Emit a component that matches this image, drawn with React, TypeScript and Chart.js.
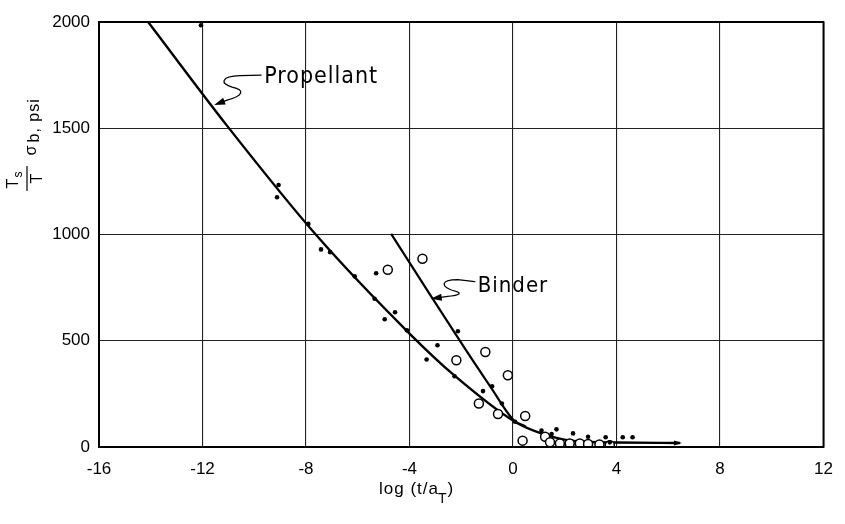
import React, { useEffect, useRef } from 'react';
import { Chart, registerables } from 'chart.js';

Chart.register(...registerables);

// ---- data ----
const xMin = -16;
const xMax = 12;
const xStep = 4;
const yMin = 0;
const yMax = 2000;
const yStep = 500;

// Propellant measurements (filled dots)
const propellantX = [-12.06, -9.06, -9.12, -7.91, -7.42, -7.07, -6.12, -5.29, -5.35, -4.96, -4.56, -4.1, -2.13, -2.92, -3.34, -2.26, -1.16, -0.81, -0.43, 0.08, 1.1, 1.49, 1.68, 2.32, 2.9, 3.58, 4.24, 4.62, 3.74];
const propellantY = [1985, 1233, 1175, 1050, 930, 917, 803, 818, 698, 601, 634, 549, 545, 479, 412, 333, 263, 286, 205, 119, 77, 61, 83, 64, 48, 46, 46, 46, 22];

// Binder measurements (open circles)
const binderX = [-4.84, -3.5, -1.07, -2.19, -0.2, -1.32, -0.58, 0.47, 0.37, 1.24, 1.43, 1.81, 2.19, 2.58, 2.9, 3.34, 3.74];
const binderY = [834, 886, 447, 408, 338, 205, 155, 146, 30, 48, 22, 17, 17, 17, 14, 12, 8];

// Faired curves
const propellantCurveX = [-14.1, -11.04, -7.59, -4.0, -2.28, 0.07, 1.17, 2.45, 4.0, 6.45];
const propellantCurveY = [2000, 1510, 995, 534, 338, 119, 61, 27, 21, 19];
const binderCurveX = [-4.71, -3.56, -1.9, -0.87, 0.02, 0.5];
const binderCurveY = [1003, 784, 471, 283, 127, 96];

// Callouts
const calloutLabels = ['Propellant', 'Binder'];
const calloutTipX = [-11.55, -3.18];
const calloutTipY = [1609, 698];

const xTitle = 'log (t/a';
const xTitleSub = 'T';

const FONT = '"Liberation Sans", Arial, sans-serif';
const NARROW = '"Liberation Sans Narrow", "DejaVu Sans Condensed", sans-serif';

const pts = (xs: number[], ys: number[]) => xs.map((x, i) => ({ x, y: ys[i] }));

function arrowHead(ctx: CanvasRenderingContext2D, fx: number, fy: number, tx: number, ty: number, len: number, half: number) {
  const dx = tx - fx;
  const dy = ty - fy;
  const d = Math.hypot(dx, dy) || 1;
  const ux = dx / d;
  const uy = dy / d;
  const bx = tx - ux * len;
  const by = ty - uy * len;
  ctx.beginPath();
  ctx.moveTo(tx, ty);
  ctx.lineTo(bx - uy * half, by + ux * half);
  ctx.lineTo(bx + uy * half, by - ux * half);
  ctx.closePath();
  ctx.fill();
}

const decorPlugin = {
  id: 'decor',
  afterDatasetsDraw(chart: any) {
    const ctx: CanvasRenderingContext2D = chart.ctx;
    const xs = chart.scales.x;
    const ys = chart.scales.y;
    const area = chart.chartArea;
    ctx.save();
    ctx.strokeStyle = '#000';
    ctx.fillStyle = '#000';
    ctx.lineCap = 'round';
    ctx.lineJoin = 'round';

    // frame
    ctx.lineWidth = 2;
    ctx.strokeRect(area.left, area.top, area.right - area.left, area.bottom - area.top);

    // callouts
    for (let i = 0; i < calloutLabels.length; i++) {
      const tx = xs.getPixelForValue(calloutTipX[i]);
      const ty = ys.getPixelForValue(calloutTipY[i]);
      ctx.lineWidth = 1.3;
      ctx.beginPath();
      if (i === 0) {
        ctx.moveTo(tx + 47, ty - 30);
        ctx.lineTo(tx + 26, ty - 29.5);
        ctx.bezierCurveTo(tx + 6, ty - 29, tx + 6, ty - 21, tx + 18, ty - 18);
        ctx.bezierCurveTo(tx + 32, ty - 15, tx + 28, ty - 9, tx + 13, ty - 5);
        ctx.lineTo(tx + 6, ty - 2.3);
        ctx.stroke();
        arrowHead(ctx, tx + 13, ty - 5, tx, ty, 11, 3.5);
        ctx.font = `23px ${NARROW}`;
        (ctx as any).letterSpacing = '1px';
        ctx.textBaseline = 'alphabetic';
        ctx.textAlign = 'left';
        ctx.fillText(calloutLabels[i], tx + 50, ty - 22);
      } else {
        ctx.moveTo(tx + 44, ty - 17);
        ctx.lineTo(tx + 27, ty - 19);
        ctx.bezierCurveTo(tx + 10, ty - 19, tx + 8, ty - 12, tx + 26, ty - 7);
        ctx.bezierCurveTo(tx + 32, ty - 5, tx + 26, ty - 3, tx + 17, ty - 2.3);
        ctx.lineTo(tx + 8, ty - 1);
        ctx.stroke();
        arrowHead(ctx, tx + 17, ty - 2.3, tx, ty, 11, 3.5);
        ctx.font = `22px ${NARROW}`;
        (ctx as any).letterSpacing = '1px';
        ctx.textBaseline = 'alphabetic';
        ctx.textAlign = 'left';
        ctx.fillText(calloutLabels[i], tx + 47, ty - 7);
      }
      (ctx as any).letterSpacing = '0px';
    }

    // small arrow at end of propellant curve
    const n = propellantCurveX.length;
    const ex = xs.getPixelForValue(propellantCurveX[n - 1]);
    const ey = ys.getPixelForValue(propellantCurveY[n - 1]);
    arrowHead(ctx, ex - 10, ey, ex + 2, ey, 8, 2.5);

    // x title
    const xl = area.left + 280;
    const xb = area.bottom + 47;
    ctx.font = `17px ${FONT}`;
    (ctx as any).letterSpacing = '1px';
    ctx.textAlign = 'left';
    ctx.textBaseline = 'alphabetic';
    ctx.fillText(xTitle, xl, xb);
    const w1 = ctx.measureText(xTitle).width;
    ctx.font = `14px ${FONT}`;
    ctx.fillText(xTitleSub, xl + w1 - 1, xb + 9);
    const w2 = ctx.measureText(xTitleSub).width;
    ctx.font = `17px ${FONT}`;
    ctx.fillText(')', xl + w1 + w2 - 1, xb);
    (ctx as any).letterSpacing = '0px';

    // y title (rotated)
    const oy = (area.top + area.bottom) / 2 - 44;
    ctx.translate(area.left - 99, oy);
    ctx.rotate(-Math.PI / 2);
    ctx.font = `16px ${FONT}`;
    ctx.fillText('T', 2, 18);
    ctx.font = `12px ${FONT}`;
    ctx.fillText('s', 13, 22);
    ctx.lineWidth = 1.2;
    ctx.beginPath();
    ctx.moveTo(0, 27);
    ctx.lineTo(24, 27);
    ctx.stroke();
    ctx.font = `16px ${FONT}`;
    ctx.fillText('T', 7, 42);
    ctx.fillText('\u03c3', 35, 36);
    (ctx as any).letterSpacing = '1px';
    ctx.fillText('b, psi', 48, 39);
    (ctx as any).letterSpacing = '0px';
    ctx.restore();
  },
};

export default function App() {
  const ref = useRef<HTMLCanvasElement | null>(null);
  useEffect(() => {
    document.body.style.margin = '0';
    const canvas = ref.current;
    if (!canvas) return;
    const tickFont = { family: FONT, size: 17 };
    const plain = (v: any) => String(v);
    const chart = new Chart(canvas, {
      type: 'scatter',
      data: {
        datasets: [
          {
            label: 'Propellant',
            data: pts(propellantX, propellantY),
            pointRadius: 2.3,
            pointBackgroundColor: '#000',
            pointBorderWidth: 0,
            showLine: false,
            order: 0,
          },
          {
            label: 'Binder',
            data: pts(binderX, binderY),
            pointRadius: 4.5,
            pointBackgroundColor: '#fff',
            pointBorderColor: '#000',
            pointBorderWidth: 1.5,
            showLine: false,
            order: 0,
          },
          {
            label: 'Propellant curve',
            data: pts(propellantCurveX, propellantCurveY),
            showLine: true,
            pointRadius: 0,
            borderColor: '#000',
            borderWidth: 2.4,
            cubicInterpolationMode: 'monotone',
            order: 1,
          },
          {
            label: 'Binder curve',
            data: pts(binderCurveX, binderCurveY),
            showLine: true,
            pointRadius: 0,
            borderColor: '#000',
            borderWidth: 2.2,
            cubicInterpolationMode: 'monotone',
            order: 1,
          },
        ],
      } as any,
      options: {
        animation: false,
        responsive: false,
        maintainAspectRatio: false,
        layout: { padding: { top: 22, right: 17, left: 0, bottom: 0 } },
        plugins: { legend: { display: false }, tooltip: { enabled: false } },
        scales: {
          x: {
            type: 'linear',
            min: xMin,
            max: xMax,
            ticks: { stepSize: xStep, font: tickFont, color: '#000', padding: 12, maxRotation: 0, callback: plain },
            grid: { color: '#222', lineWidth: 1.1, drawTicks: false },
            border: { color: '#000', width: 2 },
            afterFit: (s: any) => {
              s.height = 77;
            },
          },
          y: {
            type: 'linear',
            min: yMin,
            max: yMax,
            ticks: { stepSize: yStep, font: tickFont, color: '#000', padding: 9, callback: plain },
            grid: { color: '#222', lineWidth: 1.1, drawTicks: false },
            border: { color: '#000', width: 2 },
            afterFit: (s: any) => {
              s.width = 99;
            },
          },
        },
      } as any,
      plugins: [decorPlugin],
    });
    return () => chart.destroy();
  }, []);
  return (
    <div style={{ width: 845, height: 524, background: '#fff' }}>
      <canvas ref={ref} width={845} height={524} />
    </div>
  );
}
